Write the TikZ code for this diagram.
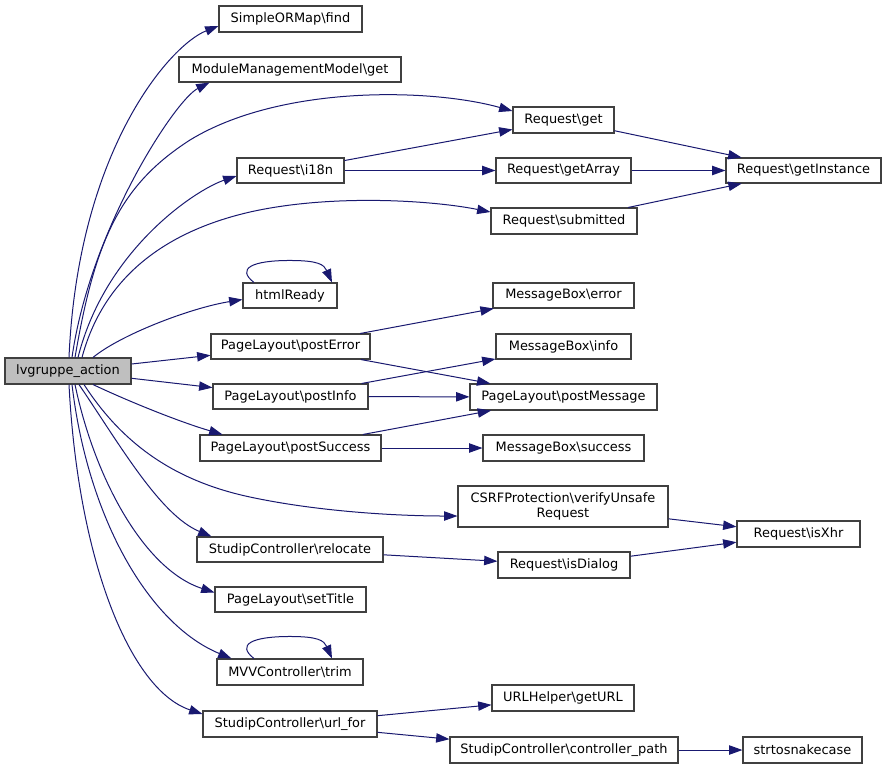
\documentclass[tikz,border=0pt]{standalone}
\usepackage{fontspec}
\setmainfont{DejaVu Sans}
\usetikzlibrary{arrows.meta,calc}
\definecolor{edgec}{HTML}{191970}
\definecolor{boxc}{HTML}{404040}
\definecolor{lvfill}{HTML}{BFBFBF}
\begin{document}
\begin{tikzpicture}[x=0.75pt,y=-0.75pt,
  fn/.style={draw=boxc, fill=white, line width=0.8pt, inner sep=0pt,
    font=\fontsize{9.7}{11}\selectfont, align=center},
  sz/.style 2 args={minimum width=#1*0.75pt, minimum height=#2*0.75pt},
  edge/.style={draw=edgec, line width=0.75pt, -{Triangle[length=10pt,width=7pt]}}]
\fill[white] (0,0) rectangle (887,769);
\useasboundingbox (0,0) rectangle (887,769);

\node[fn,sz={126}{26},fill=lvfill] (lv) at (68,371) {lvgruppe\_action};
\node[fn,sz={143}{26}] (find) at (290.5,19) {SimpleORMap\textbackslash find};
\node[fn,sz={222}{25}] (mmg) at (290,69.5) {ModuleManagementModel\textbackslash get};
\node[fn,sz={107}{25}] (i18n) at (290.5,170.5) {Request\textbackslash i18n};
\node[fn,sz={101}{26}] (get) at (563.5,120) {Request\textbackslash get};
\node[fn,sz={135}{25}] (getArray) at (563.5,170.5) {Request\textbackslash getArray};
\node[fn,sz={146}{26}] (submitted) at (564,221) {Request\textbackslash submitted};
\node[fn,sz={155}{25}] (getInstance) at (803.5,170.5) {Request\textbackslash getInstance};
\node[fn,sz={94}{25}] (html) at (290,295.5) {htmlReady};
\node[fn,sz={159}{25}] (postError) at (290.5,346.5) {PageLayout\textbackslash postError};
\node[fn,sz={155}{25}] (postInfo) at (290.5,396.5) {PageLayout\textbackslash postInfo};
\node[fn,sz={181}{26}] (postSuccess) at (290.5,448) {PageLayout\textbackslash postSuccess};
\node[fn,sz={141}{25}] (mbError) at (563.5,295.5) {MessageBox\textbackslash error};
\node[fn,sz={135}{25}] (mbInfo) at (563.5,346.5) {MessageBox\textbackslash info};
\node[fn,sz={187}{26}] (postMessage) at (563.5,397) {PageLayout\textbackslash postMessage};
\node[fn,sz={161}{26}] (mbSuccess) at (563.5,448) {MessageBox\textbackslash success};
\node[fn,sz={210}{41}] (csrf) at (563,506.5) {CSRFProtection\textbackslash verifyUnsafe\\Request};
\node[fn,sz={123}{26}] (isXhr) at (798.5,534) {Request\textbackslash isXhr};
\node[fn,sz={186}{25}] (relocate) at (290,549.5) {StudipController\textbackslash relocate};
\node[fn,sz={132}{26}] (isDialog) at (564,565) {Request\textbackslash isDialog};
\node[fn,sz={151}{25}] (setTitle) at (290.5,599.5) {PageLayout\textbackslash setTitle};
\node[fn,sz={146}{26}] (trim) at (290,672) {MVVController\textbackslash trim};
\node[fn,sz={174}{26}] (urlFor) at (290,724) {StudipController\textbackslash url\_for};
\node[fn,sz={142}{26}] (getURL) at (563,698) {URLHelper\textbackslash getURL};
\node[fn,sz={228}{26}] (ctrlPath) at (564,750) {StudipController\textbackslash controller\_path};
\node[fn,sz={119}{26}] (snake) at (802.5,750) {strtosnakecase};

% edges from lvgruppe_action (upper fan)
\draw[edge] ($(lv.north)+(1,0)$) .. controls (78,150) and (170,45) .. ($(find.west)+(0,7)$);
\draw[edge] ($(lv.north)+(4,0)$) .. controls (90,230) and (175,100) .. ($(mmg.south west)+(31,0)$);
\draw[edge] ($(lv.north)+(7,0)$) .. controls (95,240) and (120,185) .. (190,140)
   .. controls (280,85) and (430,88) .. ($(get.west)+(0,-9)$);
\draw[edge] ($(lv.north)+(10,0)$) .. controls (105,250) and (195,190) .. ($(i18n.west)+(0,5.5)$);
\draw[edge] ($(lv.north)+(14,0)$) .. controls (100,290) and (150,235) .. (250,212)
   .. controls (330,194) and (430,200) .. ($(submitted.west)+(0,-9)$);
\draw[edge] ($(lv.north)+(25,0)$) .. controls (120,335) and (190,308) .. ($(html.west)+(0,4)$);
\draw[edge] (lv) -- (postError);
\draw[edge] (lv) -- (postInfo);
% lower fan
\draw[edge] ($(lv.south)+(25,0)$) .. controls (130,402) and (180,422) .. ($(postSuccess.north west)+(23,0)$);
\draw[edge] ($(lv.south)+(16,0)$) .. controls (120,440) and (170,480) .. (250,497)
   .. controls (320,512) and (400,516) .. ($(csrf.west)+(0,9.5)$);
\draw[edge] ($(lv.south)+(11,0)$) .. controls (120,445) and (160,515) .. ($(relocate.north west)+(15,0)$);
\draw[edge] ($(lv.south)+(7,0)$) .. controls (95,480) and (145,570) .. ($(setTitle.west)+(0,-7)$);
\draw[edge] ($(lv.south)+(4,0)$) .. controls (88,520) and (150,625) .. ($(trim.north west)+(15,0)$);
\draw[edge] ($(lv.south)+(1,0)$) .. controls (78,560) and (130,690) .. ($(urlFor.west)+(0,-10)$);

% other edges
\draw[edge] (i18n) -- (get);
\draw[edge] (i18n) -- (getArray);
\draw[edge] (get) -- (getInstance);
\draw[edge] (getArray) -- (getInstance);
\draw[edge] (submitted) -- (getInstance);
\draw[edge] (postError) -- (mbError);
\draw[edge] (postError) -- (postMessage);
\draw[edge] (postInfo) -- (mbInfo);
\draw[edge] (postInfo) -- (postMessage);
\draw[edge] (postSuccess) -- (postMessage);
\draw[edge] (postSuccess) -- (mbSuccess);
\draw[edge] (csrf) -- (isXhr);
\draw[edge] (relocate) -- (isDialog);
\draw[edge] (isDialog) -- (isXhr);
\draw[edge] (urlFor) -- (getURL);
\draw[edge] (urlFor) -- (ctrlPath);
\draw[edge] (ctrlPath) -- (snake);

% self loops
\draw[edge] ($(html.north)+(-36,0)$) .. controls +(-18,-14) and +(-38,0) .. ($(html.north)+(0,-22)$)
   .. controls +(28,0) and +(-8,-18) .. ($(html.north)+(42,0)$);
\draw[edge] ($(trim.north)+(-36,0)$) .. controls +(-18,-14) and +(-38,0) .. ($(trim.north)+(0,-22)$)
   .. controls +(28,0) and +(-8,-18) .. ($(trim.north)+(42,0)$);
\end{tikzpicture}
\end{document}
